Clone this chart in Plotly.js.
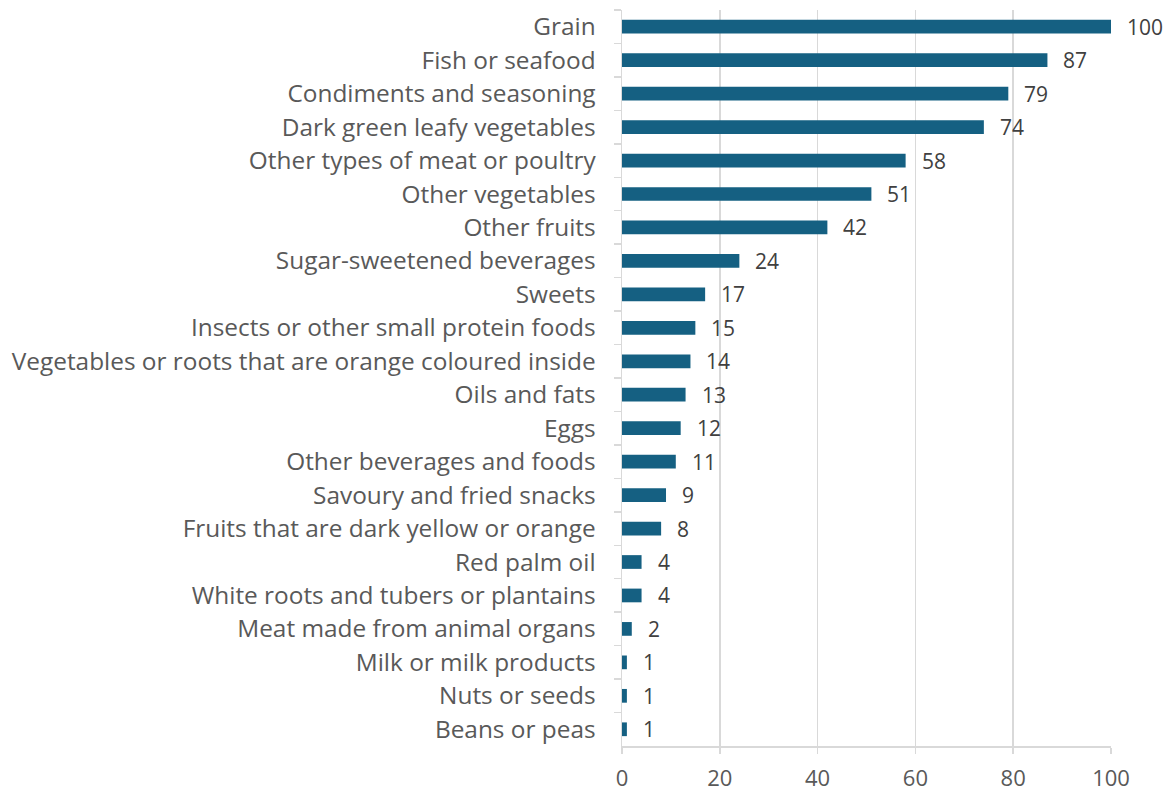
<!DOCTYPE html>
<html>
<head>
<meta charset="utf-8">
<script src="https://cdn.plot.ly/plotly-3.0.1.min.js"></script>
<style>html,body{margin:0;padding:0;background:#fff;}#chart{width:1171px;height:791px;}</style>
</head>
<body>
<div id="chart"></div>
<script>
const categories = [
  "Grain",
  "Fish or seafood",
  "Condiments and seasoning",
  "Dark green leafy vegetables",
  "Other types of meat or poultry",
  "Other vegetables",
  "Other fruits",
  "Sugar-sweetened beverages",
  "Sweets",
  "Insects or other small protein foods",
  "Vegetables or roots that are orange coloured inside",
  "Oils and fats",
  "Eggs",
  "Other beverages and foods",
  "Savoury and fried snacks",
  "Fruits that are dark yellow or orange",
  "Red palm oil",
  "White roots and tubers or plantains",
  "Meat made from animal organs",
  "Milk or milk products",
  "Nuts or seeds",
  "Beans or peas"
];
const values = [100, 87, 79, 74, 58, 51, 42, 24, 17, 15, 14, 13, 12, 11, 9, 8, 4, 4, 2, 1, 1, 1];
const xTicks = [0, 20, 40, 60, 80, 100];

const FONT = "Open Sans, Liberation Sans, Arial, sans-serif";
const GRID = "#d9d9d9";
const TXT = "#595959";

const trace = {
  type: "bar",
  orientation: "h",
  x: values,
  y: categories,
  width: 0.41,
  marker: {color: "#156082"},
  hoverinfo: "x+y"
};

const annotations = values.map((v, i) => ({
  x: v, y: categories[i], xref: "x", yref: "y",
  text: String(v), showarrow: false,
  xanchor: "left", yanchor: "middle", xshift: 14,
  font: {family: FONT, size: 21, color: "#404040"}
}));

const layout = {
  width: 1171, height: 791,
  margin: {l: 622, r: 60, t: 10, b: 45, pad: 0},
  paper_bgcolor: "#ffffff", plot_bgcolor: "#ffffff",
  showlegend: false,
  bargap: 0.59,
  font: {family: FONT, color: TXT},
  xaxis: {
    range: [0, 100],
    tickvals: xTicks,
    ticktext: xTicks.map(String),
    showgrid: true, gridcolor: GRID, gridwidth: 1.5,
    zeroline: false,
    showline: true, linecolor: GRID, linewidth: 1.5,
    ticks: "outside", ticklen: 6, tickcolor: GRID, tickwidth: 1.5,
    tickfont: {family: FONT, size: 22, color: TXT},
    ticklabelstandoff: 6,
    fixedrange: true
  },
  yaxis: {
    categoryorder: "array",
    categoryarray: categories,
    autorange: "reversed",
    showgrid: false,
    zeroline: false,
    showline: true, linecolor: GRID, linewidth: 1.5,
    ticks: "outside", tickson: "boundaries", ticklen: 7, tickcolor: GRID, tickwidth: 1.5,
    tickfont: {family: FONT, size: 24.4, color: TXT},
    ticklabelstandoff: 20,
    fixedrange: true
  },
  annotations: annotations
};

Plotly.newPlot("chart", [trace], layout, {displayModeBar: false, staticPlot: true});
</script>
</body>
</html>
